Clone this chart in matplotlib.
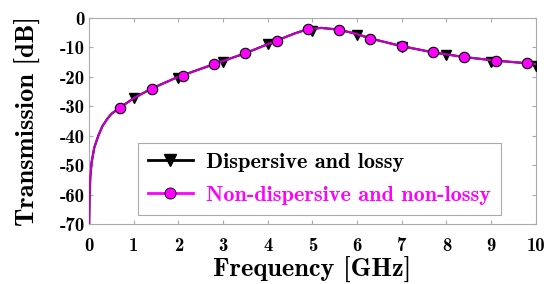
import matplotlib
matplotlib.use('Agg')
import matplotlib.pyplot as plt
from matplotlib.lines import Line2D

plt.rcParams['font.family'] = ['cmb10', 'DejaVu Serif']
plt.rcParams['axes.unicode_minus'] = False
plt.rcParams['mathtext.fontset'] = 'cm'

# curve (non-dispersive / non-lossy)
freq_line = [0.004, 0.015, 0.03, 0.06, 0.12, 0.21, 0.3, 0.4, 0.5, 0.69, 1.0,
             1.4, 2.0, 2.8, 3.5, 4.2, 4.6, 4.9, 5.2, 5.6, 6.0, 6.3, 7.0, 7.7,
             8.4, 9.1, 9.8, 10.0]
trans_line = [-70, -60, -54, -49, -44, -40, -36.8, -34.5, -32.6, -30.5, -27.3,
              -24, -20, -15.7, -12, -7.7, -5.3, -3.8, -3.4, -4.0, -5.5, -7,
              -9.6, -11.7, -13.3, -14.5, -15.4, -15.7]

# circle markers (non-dispersive and non-lossy)
freq_circ = [0.7, 1.4, 2.1, 2.8, 3.5, 4.2, 4.9, 5.6, 6.3, 7.0, 7.7, 8.4, 9.1, 9.8]
trans_circ = [-30.6, -24.0, -19.7, -15.7, -12.0, -7.7, -3.7, -4.0, -7.0,
              -9.6, -11.7, -13.3, -14.5, -15.4]

# triangle markers (dispersive and lossy)
freq_tri = [1, 2, 3, 4, 5, 6, 7, 8, 9, 10]
trans_tri = [-27.3, -20.5, -14.9, -9.0, -4.3, -5.8, -9.8, -12.6, -14.9, -16.2]

magenta = '#ff00ff'

fig = plt.figure(figsize=(5.49, 2.84), dpi=100)
ax = fig.add_axes([0.162, 0.211, 0.814, 0.726])

# black line sits under the magenta one
ax.plot(freq_line, trans_line, color='black', lw=1.5, zorder=2)
ax.plot(freq_tri, trans_tri, 'v', color='black', ms=7, zorder=3)
ax.plot(freq_line, trans_line, color='#c000c0', lw=1.6, zorder=4)
ax.plot(freq_circ, trans_circ, 'o', mfc=magenta, mec='black', mew=0.8,
        ms=7.5, zorder=5)

ax.set_xlim(0, 10)
ax.set_ylim(-70, 0)
ax.set_xticks(range(0, 11))
ax.set_yticks(range(-70, 1, 10))
ax.tick_params(direction='in', top=True, right=True, length=3,
               color='#aaaaaa', labelsize=13.5)
ax.tick_params(axis='x', pad=9)
ax.tick_params(axis='y', pad=3)
for sp in ax.spines.values():
    sp.set_color('#aaaaaa')
    sp.set_linewidth(0.8)

ax.set_xlabel('Frequency [GHz]', fontsize=19, labelpad=2)
ax.set_ylabel('Transmission [dB]', fontsize=19, labelpad=13)

h1 = Line2D([], [], color='black', lw=2, marker='v', ms=8.5)
h2 = Line2D([], [], color=magenta, lw=2, marker='o', mfc=magenta,
            mec='black', mew=0.6, ms=8)
leg = ax.legend([h1, h2], ['Dispersive and lossy',
                           'Non-dispersive and non-lossy'],
                loc='lower left', bbox_to_anchor=(0.11, 0.044),
                fontsize=16, handlelength=2.0, fancybox=False,
                edgecolor='#aaaaaa', framealpha=1, borderpad=0.45,
                labelspacing=0.6, handletextpad=0.6, borderaxespad=0)
leg.get_frame().set_linewidth(0.8)
leg.get_texts()[1].set_color(magenta)

fig.savefig('out.png', dpi=100)
